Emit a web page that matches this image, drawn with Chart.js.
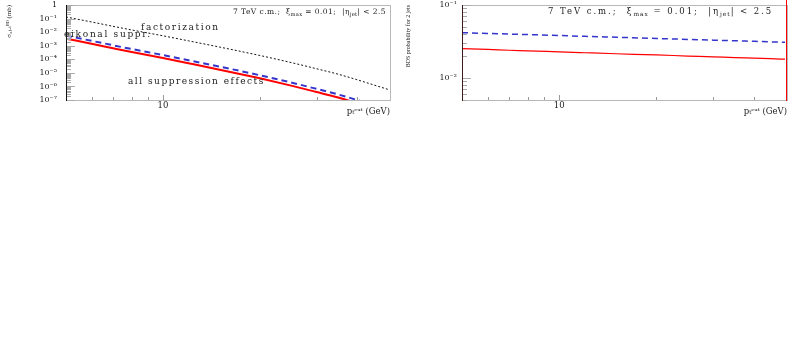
<!DOCTYPE html>
<html>
<head>
<meta charset="utf-8">
<script src="https://cdn.jsdelivr.net/npm/chart.js@4.4.1/dist/chart.umd.min.js"></script>
<style>
  body { margin: 0; background: #fff; }
  canvas { position: absolute; top: 0; }
  #crossChart { left: 0; }
  #probChart { left: 395px; }
</style>
</head>
<body>
<canvas id="crossChart" width="395" height="120"></canvas>
<canvas id="probChart" width="394" height="120"></canvas>
<script>
// pT cut values (GeV)
var ptCut = [5, 6, 7, 8, 10, 12, 15, 20, 25, 30, 35, 40, 45, 50];

// left panel: 2-jet cross sections (mb)
var sigmaFactorization = [0.1318, 0.0562, 0.0269, 0.01445, 0.00537, 0.00229, 7.94e-4, 1.905e-4, 5.75e-5, 2.0e-5, 7.94e-6, 3.16e-6, 1.32e-6, 6.03e-7];
var sigmaEikonal = [5.51e-3, 2.30e-3, 1.08e-3, 5.69e-4, 2.05e-4, 8.53e-5, 2.88e-5, 6.64e-6, 1.95e-6, 6.59e-7, 2.57e-7, 1.01e-7, 4.13e-8, 1.86e-8];
var sigmaAllEffects = [3.33e-3, 1.38e-3, 6.47e-4, 3.40e-4, 1.225e-4, 5.09e-5, 1.71e-5, 3.94e-6, 1.15e-6, 3.88e-7, 1.51e-7, 5.9e-8, 2.42e-8, 1.09e-8];

// right panel: BDS probability
var probEikonal = [0.0418, 0.0408, 0.0400, 0.0394, 0.0382, 0.0372, 0.0362, 0.0348, 0.0338, 0.0330, 0.0324, 0.0318, 0.0313, 0.0309];
var probAllEffects = [0.0252, 0.0246, 0.0240, 0.0236, 0.0228, 0.0222, 0.0215, 0.0207, 0.0200, 0.0195, 0.0190, 0.0187, 0.0184, 0.0181];

// labelled decades
var leftYDecades = [0, -1, -2, -3, -4, -5, -6, -7];
var rightYDecades = [-1, -2];
var xLabelled = [10];

var SERIF = "'Liberation Serif', 'DejaVu Serif', serif";
var WIDE = "'DejaVu Serif', 'Liberation Serif', serif";
var SUP = { '-': '\u207B', '0': '\u2070', '1': '\u00B9', '2': '\u00B2', '3': '\u00B3', '4': '\u2074', '5': '\u2075', '6': '\u2076', '7': '\u2077', '8': '\u2078', '9': '\u2079' };

function powLabel(e) {
  if (e === 0) return '1';
  return '10' + String(e).split('').map(function (c) { return SUP[c]; }).join('');
}

function pts(ys) {
  return ptCut.map(function (x, i) { return { x: x, y: ys[i] }; });
}

// minor + major ticks for a log axis
function logTicks(scale) {
  var ticks = [];
  var lo = Math.floor(Math.log10(scale.min));
  var hi = Math.ceil(Math.log10(scale.max));
  for (var e = lo; e <= hi; e++) {
    for (var d = 1; d <= 9; d++) {
      var v = d * Math.pow(10, e);
      if (v >= scale.min * 0.9999 && v <= scale.max * 1.0001) {
        ticks.push({ value: v, major: d === 1 });
      }
    }
  }
  scale.ticks = ticks;
}

function noPad(s) {
  s.paddingTop = 0;
  s.paddingBottom = 0;
  s.paddingLeft = 0;
  s.paddingRight = 0;
}

function yLabel(decades) {
  return function (value) {
    var e = Math.round(Math.log10(value));
    if (Math.abs(Math.log10(value) - e) < 1e-6 && decades.indexOf(e) >= 0) return powLabel(e);
    return '';
  };
}

function xLabel(value) {
  for (var i = 0; i < xLabelled.length; i++) {
    if (Math.abs(value - xLabelled[i]) < 1e-6) return String(xLabelled[i]);
  }
  return '';
}

// inner tick marks + frame, ROOT style
var framePlugin = {
  id: 'frame',
  afterDraw: function (chart, args, opts) {
    var ctx = chart.ctx;
    var a = chart.chartArea;
    ctx.save();
    ctx.lineWidth = 1;
    ctx.strokeStyle = '#b8b8b8';
    ctx.strokeRect(a.left + 0.5, a.top + 0.5, a.right - a.left, a.bottom - a.top);

    chart.scales.y.ticks.forEach(function (t) {
      var p = Math.round(chart.scales.y.getPixelForValue(t.value)) + 0.5;
      ctx.strokeStyle = '#aaaaaa';
      ctx.beginPath();
      ctx.moveTo(a.left, p);
      ctx.lineTo(a.left + (t.major ? 9 : 5), p);
      ctx.stroke();
    });
    chart.scales.x.ticks.forEach(function (t) {
      var p = Math.round(chart.scales.x.getPixelForValue(t.value)) + 0.5;
      if (p < a.left + 2 || p > a.right - 2) return;
      ctx.strokeStyle = '#999999';
      ctx.beginPath();
      ctx.moveTo(p, a.bottom);
      ctx.lineTo(p, a.bottom - (t.major ? 5 : 3));
      ctx.stroke();
    });

    ctx.strokeStyle = opts.leftColor || '#222';
    ctx.beginPath();
    ctx.moveTo(a.left + 0.5, a.top);
    ctx.lineTo(a.left + 0.5, a.bottom + 1);
    ctx.stroke();
    if (opts.rightColor) {
      ctx.strokeStyle = opts.rightColor;
      ctx.beginPath();
      ctx.moveTo(a.right - 0.5, 0);
      ctx.lineTo(a.right - 0.5, a.bottom + 1);
      ctx.stroke();
    }
    ctx.restore();
  }
};

// text: segments may be subscripts
function drawRich(ctx, segs, x, y, size, spacing) {
  segs.forEach(function (s) {
    var fs = s.sub ? size * 0.7 : size;
    ctx.font = fs + 'px ' + WIDE;
    ctx.letterSpacing = (s.sub ? spacing * 0.5 : spacing) + 'px';
    ctx.fillText(s.t, x, y + (s.sub ? 2 : 0));
    x += ctx.measureText(s.t).width;
  });
}

var textPlugin = {
  id: 'panelText',
  afterDraw: function (chart, args, opts) {
    var ctx = chart.ctx;
    var a = chart.chartArea;
    ctx.save();
    ctx.fillStyle = '#222';
    ctx.textBaseline = 'alphabetic';
    (opts.items || []).forEach(function (it) {
      drawRich(ctx, it.segs, a.left + it.dx, a.top + it.dy, it.size, it.spacing);
    });
    ctx.restore();
  }
};

function header(dx, size, spacing) {
  return {
    dx: dx, dy: 9, size: size, spacing: spacing,
    segs: [{ t: '7 TeV c.m.;  \u03BE' }, { t: 'max', sub: true }, { t: ' = 0.01;  |\u03B7' }, { t: 'jet', sub: true }, { t: '| < 2.5' }]
  };
}

function xAxis() {
  return {
    type: 'logarithmic',
    min: 5,
    max: 50.7,
    afterBuildTicks: logTicks,
    afterFit: function (s) { s.height = 20; noPad(s); },
    grid: { drawOnChartArea: false, drawTicks: false },
    border: { display: false },
    ticks: { autoSkip: false, maxRotation: 0, padding: 1, color: '#222', font: { family: WIDE, size: 8.5 }, callback: xLabel },
    title: { display: true, align: 'end', text: 'p\u209C\u1D9C\u1D58\u1D57 (GeV)', color: '#222', font: { family: WIDE, size: 8.5 }, padding: { top: -6, bottom: 3 } }
  };
}

Chart.defaults.animation = false;

new Chart(document.getElementById('crossChart'), {
  type: 'line',
  data: {
    datasets: [
      { label: 'factorization', data: pts(sigmaFactorization), borderColor: '#111', borderWidth: 1, borderDash: [2, 2], pointRadius: 0, cubicInterpolationMode: 'monotone' },
      { label: 'all suppression effects', data: pts(sigmaAllEffects), borderColor: '#ff0000', borderWidth: 2, pointRadius: 0, cubicInterpolationMode: 'monotone' },
      { label: 'eikonal suppr.', data: pts(sigmaEikonal), borderColor: '#3535cc', borderWidth: 2, borderDash: [6, 4], pointRadius: 0, cubicInterpolationMode: 'monotone' }
    ]
  },
  options: {
    responsive: false,
    layout: { padding: { top: 5, right: 5, left: 0, bottom: 0 } },
    scales: {
      x: xAxis(),
      y: {
        type: 'logarithmic',
        min: 1e-7,
        max: 1,
        afterBuildTicks: logTicks,
        afterFit: function (s) { s.width = 66; noPad(s); },
        grid: { drawOnChartArea: false, drawTicks: false },
        border: { display: false },
        ticks: { autoSkip: false, padding: 9, color: '#222', font: { family: WIDE, size: 8 }, callback: yLabel(leftYDecades) },
        title: { display: true, align: 'end', text: '\u03C3\u2082\u2c7c\u2091\u209C\u1D2E\u1D30 (mb)', color: '#222', font: { family: SERIF, size: 7 }, padding: { top: 5, bottom: 2 } }
      }
    },
    plugins: {
      legend: { display: false },
      tooltip: { enabled: false },
      frame: { leftColor: '#111' },
      panelText: {
        items: [
          header(167, 7.5, 0.45),
          { dx: 75, dy: 25, size: 9, spacing: 1.6, segs: [{ t: 'factorization' }] },
          { dx: -2, dy: 32, size: 9, spacing: 1.7, segs: [{ t: 'eikonal suppr.' }] },
          { dx: 62, dy: 79, size: 9, spacing: 1.5, segs: [{ t: 'all suppression effects' }] }
        ]
      }
    }
  },
  plugins: [framePlugin, textPlugin]
});

new Chart(document.getElementById('probChart'), {
  type: 'line',
  data: {
    datasets: [
      { label: 'all suppression effects', data: pts(probAllEffects), borderColor: '#ff0000', borderWidth: 1.2, pointRadius: 0, cubicInterpolationMode: 'monotone' },
      { label: 'eikonal suppr.', data: pts(probEikonal), borderColor: '#3535cc', borderWidth: 1.5, borderDash: [6, 4], pointRadius: 0, cubicInterpolationMode: 'monotone' }
    ]
  },
  options: {
    responsive: false,
    layout: { padding: { top: 5, right: 2, left: 0, bottom: 0 } },
    scales: {
      x: xAxis(),
      y: {
        type: 'logarithmic',
        min: 0.005,
        max: 0.1,
        afterBuildTicks: logTicks,
        afterFit: function (s) { s.width = 67; noPad(s); },
        grid: { drawOnChartArea: false, drawTicks: false },
        border: { display: false },
        ticks: { autoSkip: false, padding: 5, color: '#222', font: { family: WIDE, size: 8 }, callback: yLabel(rightYDecades) },
        title: { display: true, align: 'end', text: 'BDS probability for 2 jets', color: '#222', font: { family: SERIF, size: 6 }, padding: { top: 10, bottom: 2 } }
      }
    },
    plugins: {
      legend: { display: false },
      tooltip: { enabled: false },
      frame: { leftColor: '#3a1c1c', rightColor: '#ff0000' },
      panelText: { items: [header(86, 8.5, 1.95)] }
    }
  },
  plugins: [framePlugin, textPlugin]
});
</script>
</body>
</html>
